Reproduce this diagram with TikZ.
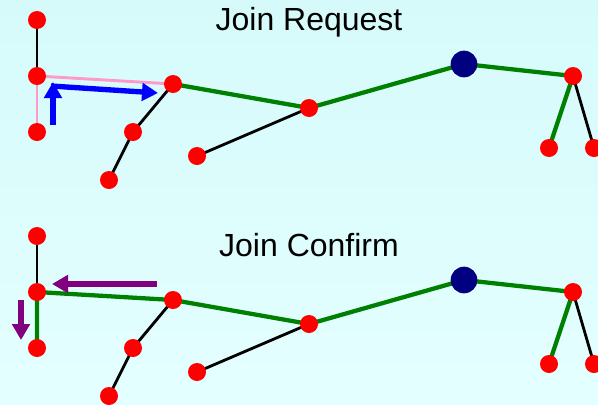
\documentclass[tikz,border=0pt]{standalone}
\usepackage{fontspec}
\setmainfont{Liberation Sans}
\usetikzlibrary{arrows.meta}
\definecolor{bgtop}{HTML}{D6FAFA}
\definecolor{bgbot}{HTML}{E4FFFF}
\definecolor{tgreen}{HTML}{008000}
\definecolor{tpink}{HTML}{FF99CC}
\definecolor{tnavy}{HTML}{000080}
\definecolor{tpurple}{HTML}{800080}
\definecolor{tblue}{HTML}{0000FF}
\begin{document}
\begin{tikzpicture}[x=0.75pt,y=-0.75pt,
  rn/.style={circle,fill=red,draw=none,minimum size=13.5pt,inner sep=0pt},
  bn/.style={circle,fill=tnavy,draw=none,minimum size=20pt,inner sep=0pt},
  blk/.style={draw=black,line width=2.1pt},
  grn/.style={draw=tgreen,line width=3.2pt},
  pnk/.style={draw=tpink,line width=2.2pt},
  barrow/.style={draw=tblue,line width=4pt,-{Triangle[width=13pt,length=12pt]}},
  parrow/.style={draw=tpurple,line width=4pt,-{Triangle[width=13pt,length=12pt]}},
  lbl/.style={font=\fontsize{24pt}{28pt}\selectfont,text=black,inner sep=0pt}]
\shade[top color=bgtop,bottom color=bgbot] (0,0) rectangle (598,404);
\useasboundingbox (0,0) rectangle (598,404);
% top
\node[lbl] (t1) at (309,22) {Join Request};
\coordinate (a1) at (37,20);
\coordinate (b1) at (37,76);
\coordinate (c1) at (37,132);
\coordinate (d1) at (173,84);
\coordinate (e1) at (133,132);
\coordinate (f1) at (109,180);
\coordinate (g1) at (197,156);
\coordinate (h1) at (309,108);
\coordinate (i1) at (464,64);
\coordinate (j1) at (573,76);
\coordinate (k1) at (549,148);
\coordinate (l1) at (594,148);
\draw[blk] (a1) -- (b1);
\draw[pnk] (b1) -- (c1);
\draw[pnk] (b1) -- (d1);
\draw[blk] (d1) -- (e1) -- (f1);
\draw[grn] (d1) -- (h1);
\draw[blk] (g1) -- (h1);
\draw[grn] (h1) -- (i1) -- (j1) -- (k1);
\draw[blk] (j1) -- (l1);
\foreach \n in {a1,b1,c1,d1,e1,f1,g1,h1,j1,k1,l1} \node[rn] (N\n) at (\n) {};
\node[bn] (Ni1) at (i1) {};
\coordinate (bu0) at (53,125);
\coordinate (bu1) at (53,82);
\coordinate (bh0) at (51,86);
\coordinate (bh1) at (158,93);
\draw[barrow] (bu0) -- (bu1);
\draw[barrow] (bh0) -- (bh1);
% bottom
\node[lbl] (t2) at (309,245) {Join Confirm};
\coordinate (a2) at (37,236);
\coordinate (b2) at (37,292);
\coordinate (c2) at (37,348);
\coordinate (d2) at (173,300);
\coordinate (e2) at (133,348);
\coordinate (f2) at (109,396);
\coordinate (g2) at (197,372);
\coordinate (h2) at (309,324);
\coordinate (i2) at (464,280);
\coordinate (j2) at (573,292);
\coordinate (k2) at (549,364);
\coordinate (l2) at (594,364);
\draw[blk] (a2) -- (b2);
\draw[grn] (c2) -- (b2) -- (d2) -- (h2);
\draw[blk] (d2) -- (e2) -- (f2);
\draw[blk] (g2) -- (h2);
\draw[grn] (h2) -- (i2) -- (j2) -- (k2);
\draw[blk] (j2) -- (l2);
\foreach \n in {a2,b2,c2,d2,e2,f2,g2,h2,j2,k2,l2} \node[rn] (N\n) at (\n) {};
\node[bn] (Ni2) at (i2) {};
\coordinate (pl0) at (157,284);
\coordinate (pl1) at (52,284);
\coordinate (pd0) at (21,300);
\coordinate (pd1) at (21,340);
\draw[parrow] (pl0) -- (pl1);
\draw[parrow] (pd0) -- (pd1);
\end{tikzpicture}
\end{document}
